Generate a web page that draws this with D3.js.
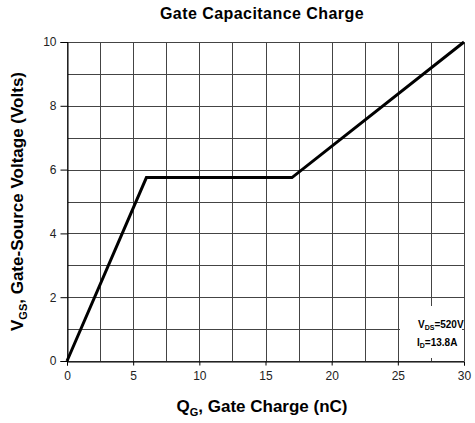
<!DOCTYPE html>
<html><head><meta charset="utf-8">
<script src="https://cdn.jsdelivr.net/npm/d3@7"></script>
<style>body{margin:0;background:#fff}svg{display:block}text{font-family:"Liberation Sans",Arial,sans-serif}</style>
</head><body>
<svg id="c" width="475" height="423"></svg>
<script>
const qCharge = [0, 6.0, 17.0, 30];
const vGate = [0, 5.75, 5.75, 10];
const xTicks = [0, 5, 10, 15, 20, 25, 30];
const yTicks = [0, 2, 4, 6, 8, 10];
const xGrid = [0, 2.5, 5, 7.5, 10, 12.5, 15, 17.5, 20, 22.5, 25, 27.5, 30];
const yGrid = [0, 1, 2, 3, 4, 5, 6, 7, 8, 9, 10];

const svg = d3.select("#c");
const L = 67, R = 464, T = 42, B = 361;
const x = d3.scaleLinear().domain([0, 30]).range([L, R]);
const y = d3.scaleLinear().domain([0, 10]).range([B, T]);

// grid
svg.append("g").selectAll("line").data(xGrid).join("line")
  .attr("x1", d => Math.round(x(d)) + 0.5).attr("x2", d => Math.round(x(d)) + 0.5)
  .attr("y1", T).attr("y2", B).attr("stroke", "#444").attr("stroke-width", 1);
svg.append("g").selectAll("line").data(yGrid).join("line")
  .attr("y1", d => Math.round(y(d)) + 0.5).attr("y2", d => Math.round(y(d)) + 0.5)
  .attr("x1", L).attr("x2", R).attr("stroke", "#444").attr("stroke-width", 1);

// annotation box (covers grid)
svg.append("rect").attr("x", 400).attr("y", 306).attr("width", 62).attr("height", 52).attr("fill", "#fff");

// axes
const xAxis = d3.axisBottom(x).tickValues(xTicks).tickSize(4).tickPadding(6).tickFormat(d3.format("d"));
const gx = svg.append("g").attr("transform", `translate(0,${Math.round(B) + 0.5})`).call(xAxis);
gx.select(".domain").attr("stroke", "#000");
gx.selectAll("text").attr("font-size", 12).attr("fill", "#222");
const yAxis = d3.axisLeft(y).tickValues(yTicks).tickSize(7).tickPadding(4).tickFormat(d3.format("d"));
const gy = svg.append("g").attr("transform", `translate(${L + 0.5},0)`).call(yAxis);
gy.select(".domain").attr("stroke", "#000");
gy.selectAll("text").attr("font-size", 12).attr("fill", "#222");
gx.selectAll(".tick line").attr("stroke", "#000");
gy.selectAll(".tick line").attr("stroke", "#000");

// curve
const pts = qCharge.map((q, i) => [q, vGate[i]]);
svg.append("path").datum(pts)
  .attr("d", d3.line().x(d => x(d[0])).y(d => y(d[1])))
  .attr("fill", "none").attr("stroke", "#000").attr("stroke-width", 3).attr("stroke-linejoin", "miter");

// annotation text
const a1 = svg.append("text").attr("x", 418).attr("y", 328).attr("font-size", 10).attr("font-weight", "bold");
a1.append("tspan").text("V");
a1.append("tspan").attr("font-size", 7).attr("dy", 2).text("DS");
a1.append("tspan").attr("dy", -2).text("=520V");
const a2 = svg.append("text").attr("x", 417).attr("y", 346).attr("font-size", 10).attr("font-weight", "bold");
a2.append("tspan").text("I");
a2.append("tspan").attr("font-size", 7).attr("dy", 2).text("D");
a2.append("tspan").attr("dy", -2).text("=13.8A");

// title
svg.append("text").attr("x", 262).attr("y", 18.5).attr("text-anchor", "middle")
  .attr("font-size", 16).attr("letter-spacing", 0.45).attr("font-weight", "bold").text("Gate Capacitance Charge");

// x label
const xl = svg.append("text").attr("x", 262).attr("y", 412).attr("text-anchor", "middle")
  .attr("font-size", 17).attr("font-weight", "bold");
xl.append("tspan").text("Q");
xl.append("tspan").attr("font-size", 11).attr("dy", 4).text("G");
xl.append("tspan").attr("dy", -4).text(", Gate Charge (nC)");

// y label
const yl = svg.append("text").attr("transform", `translate(23,${(T + B) / 2}) rotate(-90)`)
  .attr("text-anchor", "middle").attr("font-size", 17).attr("font-weight", "bold");
yl.append("tspan").text("V");
yl.append("tspan").attr("font-size", 11).attr("dy", 4).text("GS");
yl.append("tspan").attr("dy", -4).text(", Gate-Source Voltage (Volts)");
</script>
</body></html>
